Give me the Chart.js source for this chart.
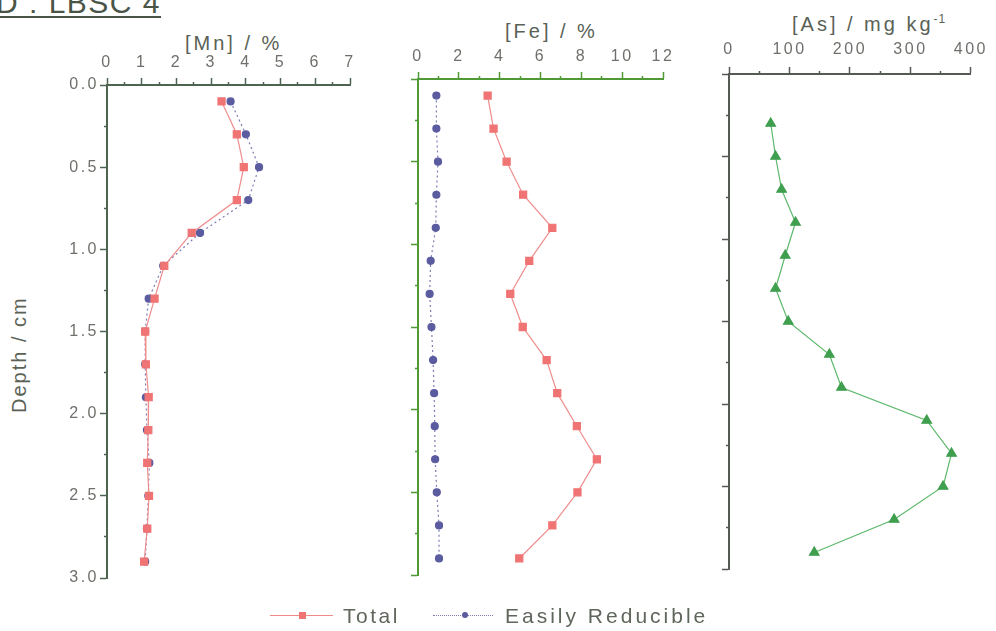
<!DOCTYPE html>
<html>
<head>
<meta charset="utf-8">
<script src="https://cdn.jsdelivr.net/npm/chart.js@4.4.1/dist/chart.umd.min.js"></script>
<style>
  html, body { margin: 0; padding: 0; background: #fff; }
  body { width: 996px; height: 631px; position: relative; overflow: hidden;
         font-family: "Liberation Sans", Arial, sans-serif; }
  canvas { position: absolute; left: 0; top: 0; }
  .txt { position: absolute; white-space: nowrap; color: #5a6256; line-height: 1; }
  .ttl { font-size: 20px; letter-spacing: 3px; }
  .legend-line { position: absolute; height: 0; }
  .legend-mark { position: absolute; }
</style>
</head>
<body>
<div class="txt" style="left:-4px; top:-12px; font-size:30px; letter-spacing:1.5px; color:#4a5548; text-decoration:underline; text-decoration-thickness:2px; text-underline-offset:3px;">D : LBSC 4</div>

<div class="txt ttl" style="left:185px; top:33px;">[Mn] / %</div>
<div class="txt ttl" style="left:505px; top:21px;">[Fe] / %</div>
<div class="txt ttl" style="left:792px; top:13px;">[As] / mg kg<sup style="font-size:12px; letter-spacing:1px;">-1</sup></div>
<div class="txt" style="left:9px; top:345px; font-size:20px; letter-spacing:2px; transform-origin:center; transform:translate(-48px,0) rotate(-90deg); width:116px; text-align:center;">Depth / cm</div>

<canvas id="mnChart" width="996" height="631"></canvas>
<canvas id="feChart" width="996" height="631"></canvas>
<canvas id="asChart" width="996" height="631"></canvas>

<!-- legend -->
<div class="legend-line" style="left:270px; top:615px; width:63px; border-top:1px solid #f08c8c;"></div>
<div class="legend-mark" style="left:299px; top:612px; width:7px; height:7px; background:#f07474;"></div>
<div class="txt" style="left:343px; top:605px; font-size:21px; letter-spacing:2.5px; color:#5f665b;">Total</div>
<div class="legend-line" style="left:433px; top:615px; width:60px; border-top:1px dotted #7c7cb4;"></div>
<div class="legend-mark" style="left:462px; top:612px; width:6px; height:6px; border-radius:50%; background:#5b5ba0;"></div>
<div class="txt" style="left:505px; top:605px; font-size:21px; letter-spacing:3px; color:#5f665b;">Easily Reducible</div>

<script>
// depth of each sample, cm
const depths = [0.1, 0.3, 0.5, 0.7, 0.9, 1.1, 1.3, 1.5, 1.7, 1.9, 2.1, 2.3, 2.5, 2.7, 2.9];
const asDepths = [0.3, 0.5, 0.7, 0.9, 1.1, 1.3, 1.5, 1.7, 1.9, 2.1, 2.3, 2.5, 2.7, 2.9];

// [Mn] / %
const mnTotal = [3.30, 3.74, 3.94, 3.74, 2.44, 1.65, 1.37, 1.10, 1.12, 1.20, 1.19, 1.16, 1.21, 1.16, 1.07];
const mnReducible = [3.56, 4.00, 4.38, 4.07, 2.68, 1.62, 1.20, 1.10, 1.10, 1.12, 1.15, 1.22, 1.19, 1.15, 1.10];

// [Fe] / %
const feTotal = [3.41, 3.70, 4.34, 5.15, 6.58, 5.45, 4.52, 5.13, 6.30, 6.82, 7.78, 8.76, 7.81, 6.58, 4.96];
const feReducible = [0.90, 0.90, 0.98, 0.90, 0.87, 0.62, 0.57, 0.66, 0.74, 0.79, 0.82, 0.84, 0.92, 1.03, 1.03];

// [As] / mg kg-1
const asTotal = [69, 77, 87, 110, 93, 77, 98, 166, 186, 327, 368, 354, 273, 141];

const tickFont = { family: "'Liberation Sans', Arial, sans-serif", size: 16 };
const tickColor = "#6e716b";

function pairs(xs, ys) {
    return xs.map((v, i) => ({ x: v, y: ys[i] }));
}

// wide letter spacing like the scanned figure
const spacing = {
    id: "spacing",
    beforeUpdate(chart) { chart.ctx.letterSpacing = "2.5px"; },
    beforeDraw(chart) { chart.ctx.letterSpacing = "2.5px"; }
};

function totalSet(data) {
    return {
        label: "Total",
        data: data,
        showLine: true,
        borderColor: "#f08c8c",
        borderWidth: 1.2,
        pointStyle: "rect",
        pointRadius: 5,
        pointBackgroundColor: "#f07474",
        pointBorderColor: "#f07474"
    };
}

function reducibleSet(data) {
    return {
        label: "Easily Reducible",
        data: data,
        showLine: true,
        borderColor: "#7c7cb4",
        borderWidth: 1.2,
        borderDash: [2, 3],
        pointStyle: "circle",
        pointRadius: 3.5,
        pointBackgroundColor: "#5b5ba0",
        pointBorderColor: "#5b5ba0"
    };
}

// minor ticks: same tick mark but only its inner part is drawn
function tickDash(majorStep) {
    return function (ctx) {
        const v = ctx.tick ? ctx.tick.value : 0;
        const r = v / majorStep;
        return Math.abs(r - Math.round(r)) < 1e-6 ? [] : [0, 4, 3, 40];
    };
}

function panel(id, opts) {
    new Chart(document.getElementById(id), {
        type: "scatter",
        data: { datasets: opts.datasets },
        options: {
            responsive: false,
            animation: false,
            events: [],
            layout: { padding: opts.padding },
            plugins: { legend: { display: false }, tooltip: { enabled: false } },
            scales: {
                x: {
                    type: "linear",
                    position: "top",
                    min: opts.xMin,
                    max: opts.xMax,
                    afterFit(s) { s.height = opts.xHeight; },
                    border: { display: true, color: opts.axisColor, width: 2 },
                    grid: {
                        drawOnChartArea: false,
                        tickLength: 7,
                        tickWidth: 1.5,
                        tickColor: opts.axisColor,
                        tickBorderDash: tickDash(opts.xMajor)
                    },
                    ticks: {
                        stepSize: opts.xMinor,
                        autoSkip: false,
                        maxRotation: 0,
                        padding: opts.xPad,
                        color: tickColor,
                        font: tickFont,
                        callback(v) {
                            const r = v / opts.xMajor;
                            return Math.abs(r - Math.round(r)) < 1e-6 ? String(v) : "";
                        }
                    }
                },
                y: {
                    type: "linear",
                    position: "left",
                    reverse: true,
                    min: 0,
                    max: 3,
                    afterFit(s) { s.width = opts.yWidth; },
                    border: { display: true, color: opts.axisColor, width: 2 },
                    grid: {
                        drawOnChartArea: false,
                        tickLength: 7,
                        tickWidth: 1.5,
                        tickColor: opts.axisColor,
                        tickBorderDash: tickDash(0.5)
                    },
                    ticks: {
                        stepSize: 0.25,
                        autoSkip: false,
                        padding: 1,
                        color: tickColor,
                        font: tickFont,
                        callback(v) {
                            if (!opts.yLabels) return "";
                            const r = v / 0.5;
                            return Math.abs(r - Math.round(r)) < 1e-6 ? v.toFixed(1) : "";
                        }
                    }
                }
            }
        },
        plugins: [spacing]
    });
}

// [Mn] panel: plot area 107..350 x 85..578
panel("mnChart", {
    datasets: [totalSet(pairs(mnTotal, depths)), reducibleSet(pairs(mnReducible, depths))],
    padding: { left: 57, top: 45, right: 646, bottom: 53 },
    yWidth: 50, xHeight: 40, xPad: 6,
    xMin: 0, xMax: 7, xMinor: 0.5, xMajor: 1,
    axisColor: "#4f6450", yLabels: true
});

// [Fe] panel: plot area 418..663 x 79..575
panel("feChart", {
    datasets: [totalSet(pairs(feTotal, depths)), reducibleSet(pairs(feReducible, depths))],
    padding: { left: 398, top: 39, right: 333, bottom: 56 },
    yWidth: 20, xHeight: 40, xPad: 6,
    xMin: 0, xMax: 12, xMinor: 1, xMajor: 2,
    axisColor: "#4f9a35", yLabels: false
});

// [As] panel: plot area 729..974 x 74..569
panel("asChart", {
    datasets: [{
        label: "As",
        data: pairs(asTotal, asDepths),
        showLine: true,
        borderColor: "#5cb86a",
        borderWidth: 1.2,
        pointStyle: "triangle",
        pointRadius: 5.5,
        pointBackgroundColor: "#3f9f4f",
        pointBorderColor: "#3f9f4f"
    }],
    padding: { left: 709, top: 34, right: 22, bottom: 62 },
    yWidth: 20, xHeight: 40, xPad: 8,
    xMin: 0, xMax: 400, xMinor: 50, xMajor: 100,
    axisColor: "#555a55", yLabels: false
});
</script>
</body>
</html>
